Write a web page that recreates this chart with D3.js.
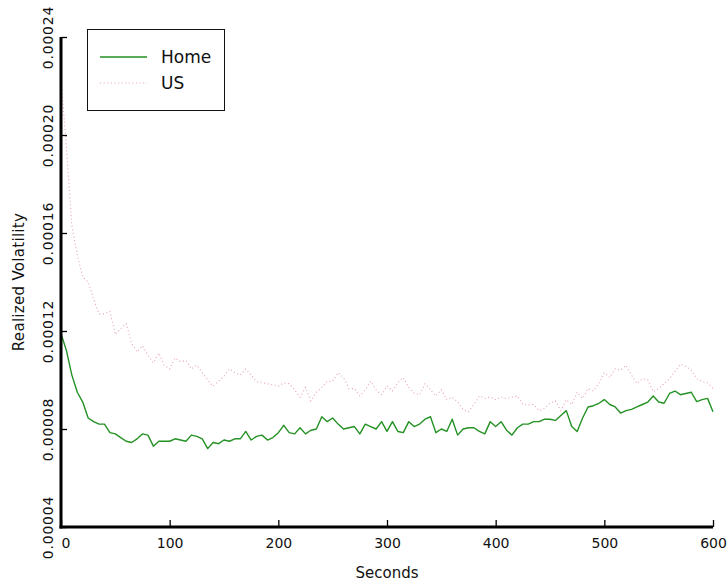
<!DOCTYPE html>
<html>
<head>
<meta charset="utf-8">
<script src="https://cdn.jsdelivr.net/npm/d3@7"></script>
<style>
  html, body { margin: 0; padding: 0; background: #fff; }
  svg { display: block; font-family: "DejaVu Sans", sans-serif; }
</style>
</head>
<body>
<svg id="chart" width="728" height="584"></svg>
<script>
// ---- data ----
const seconds = d3.range(0, 601, 5);
const homeValues = [
  11.9, 11.2, 10.2, 9.5, 9.1, 8.45, 8.3, 8.2, 8.2, 7.85,
  7.8, 7.65, 7.5, 7.45, 7.6, 7.8, 7.75, 7.3, 7.5, 7.5,
  7.5, 7.6, 7.55, 7.5, 7.75, 7.7, 7.6, 7.2, 7.45, 7.4,
  7.55, 7.5, 7.6, 7.6, 7.9, 7.55, 7.7, 7.75, 7.55, 7.65,
  7.85, 8.15, 7.85, 7.8, 8.05, 7.8, 7.95, 8.0, 8.5, 8.3,
  8.45, 8.2, 8.0, 8.05, 8.1, 7.8, 8.2, 8.1, 8.0, 8.3,
  7.9, 8.3, 7.9, 7.85, 8.3, 8.1, 8.2, 8.4, 8.5, 7.85,
  8.0, 7.9, 8.4, 7.75, 8.0, 8.05, 8.05, 7.9, 7.8, 8.3,
  8.1, 8.3, 7.95, 7.75, 8.05, 8.2, 8.2, 8.3, 8.3, 8.4,
  8.4, 8.35, 8.55, 8.75, 8.1, 7.9, 8.45, 8.9, 8.95, 9.05,
  9.2, 9.0, 8.9, 8.65, 8.75, 8.8, 8.9, 9.0, 9.1, 9.35,
  9.1, 9.05, 9.45, 9.55, 9.4, 9.45, 9.5, 9.12, 9.2, 9.25,
  8.7
].map(v => v * 1e-5);
const usValues = [
  22.3, 19.5, 16.3, 15.1, 14.2, 14.0, 13.3, 12.7, 12.7, 12.8,
  11.85, 12.1, 12.3, 11.5, 11.15, 11.4, 11.0, 10.7, 11.1, 10.6,
  10.45, 10.9, 10.75, 10.8, 10.45, 10.6, 10.3, 10.0, 9.75, 9.95,
  10.15, 10.45, 10.3, 10.2, 10.45, 10.2, 9.93, 9.9, 9.85, 9.8,
  9.75, 9.88, 9.85, 9.6, 9.3, 9.7, 9.15, 9.5, 9.7, 9.95,
  9.95, 10.3, 10.1, 9.65, 9.65, 9.35, 9.6, 9.95, 9.6, 9.4,
  9.75, 9.55, 9.9, 10.1, 9.7, 9.45, 9.4, 9.85, 9.6, 9.35,
  9.6, 9.2, 9.3, 9.1, 8.8, 8.7, 9.0, 9.35, 9.25, 9.3,
  9.2, 9.3, 9.25, 9.3, 9.35, 9.0, 8.98, 9.0, 8.75, 8.85,
  9.05, 9.15, 8.75, 9.2, 9.0, 9.5, 9.25, 9.65, 9.55, 9.85,
  10.3, 10.1, 10.45, 10.4, 10.6, 10.2, 9.86, 10.05, 10.0, 9.52,
  9.65, 9.85, 10.05, 10.35, 10.65, 10.55, 10.4, 10.05, 9.93, 9.88,
  9.66
].map(v => v * 1e-5);
const seriesNames = ["Home", "US"];
const xTickValues = [0, 100, 200, 300, 400, 500, 600];
const xMinorTicks = [50, 150, 250, 350, 450, 550];
const yTickValues = [0.00004, 0.00008, 0.00012, 0.00016, 0.00020, 0.00024];
const yMinorTicks = [0.00006, 0.00010, 0.00014, 0.00018, 0.00022];
const xTitle = "Seconds";
const yTitle = "Realized Volatility";

// ---- chart ----
const svg = d3.select("#chart");
const x = d3.scaleLinear().domain([0, 600]).range([61, 713]);
const y = d3.scaleLinear().domain([0.00004, 0.00024]).range([527, 37]);

const homeColor = "#239123";
const usColor = "#e8a9b3";

// lines
const line = d3.line().x((d, i) => x(seconds[i])).y(d => y(d));
svg.append("path").datum(usValues)
  .attr("d", line).attr("fill", "none")
  .attr("stroke", usColor).attr("stroke-width", 1.1)
  .attr("stroke-dasharray", "1.1,2.5");
svg.append("path").datum(homeValues)
  .attr("d", line).attr("fill", "none")
  .attr("stroke", homeColor).attr("stroke-width", 1.4)
  .attr("stroke-linejoin", "round");

// x axis
const xAxisG = svg.append("g").attr("transform", `translate(0,${y.range()[0]})`);
xAxisG.call(d3.axisBottom(x).tickValues(xMinorTicks).tickSize(-4.5).tickFormat(""));
xAxisG.call(d3.axisBottom(x).tickValues(xTickValues).tickSize(-7).tickSizeOuter(0)
  .tickFormat(d3.format("d")));
xAxisG.selectAll("path.domain").remove();
xAxisG.selectAll("line").attr("stroke", "#000").attr("stroke-width", 1.3);
xAxisG.selectAll("text")
  .attr("y", 16).attr("dy", "0.36em")
  .attr("font-size", 14).attr("fill", "#111")
  .attr("font-family", "DejaVu Sans, sans-serif");
xAxisG.selectAll("text").filter(d => d === 0).attr("text-anchor", "start").attr("x", 0);

// y axis
const yAxisG = svg.append("g").attr("transform", `translate(${x.range()[0]},0)`);
yAxisG.call(d3.axisLeft(y).tickValues(yMinorTicks).tickSize(-4.5).tickFormat(""));
yAxisG.call(d3.axisLeft(y).tickValues(yTickValues).tickSize(-6).tickSizeOuter(0)
  .tickFormat(d3.format(".5f")));
yAxisG.selectAll("path.domain").remove();
yAxisG.selectAll("line").attr("stroke", "#000").attr("stroke-width", 1.3);
yAxisG.selectAll("text")
  .attr("x", null).attr("dy", null)
  .attr("transform", "translate(-13,0) rotate(-90)")
  .attr("text-anchor", "middle")
  .attr("dominant-baseline", "central")
  .attr("font-size", 14).attr("letter-spacing", 0.8).attr("fill", "#111")
  .attr("font-family", "DejaVu Sans, sans-serif");

// thick axis lines
svg.append("line")
  .attr("x1", x.range()[0]).attr("x2", x.range()[0])
  .attr("y1", y.range()[0] + 1.5).attr("y2", y.range()[1])
  .attr("stroke", "#000").attr("stroke-width", 3);
svg.append("line")
  .attr("x1", x.range()[0] - 1.5).attr("x2", x.range()[1])
  .attr("y1", y.range()[0]).attr("y2", y.range()[0])
  .attr("stroke", "#000").attr("stroke-width", 3);

// axis titles
svg.append("text")
  .attr("x", (x.range()[0] + x.range()[1]) / 2).attr("y", 573)
  .attr("text-anchor", "middle").attr("dominant-baseline", "central")
  .attr("font-size", 15).attr("fill", "#111").text(xTitle);
svg.append("text")
  .attr("transform", `translate(19,${(y.range()[0] + y.range()[1]) / 2}) rotate(-90)`)
  .attr("text-anchor", "middle").attr("dominant-baseline", "central")
  .attr("font-size", 15).attr("letter-spacing", 0.3).attr("fill", "#111").text(yTitle);

// legend
const legend = svg.append("g");
legend.append("rect")
  .attr("x", 87.5).attr("y", 29.5).attr("width", 137).attr("height", 81)
  .attr("fill", "#fff").attr("stroke", "#111").attr("stroke-width", 1);
const legendItems = [
  { name: seriesNames[0], color: homeColor, dash: null, w: 1.5 },
  { name: seriesNames[1], color: usColor, dash: "1.1,2.5", w: 1.1 }
];
legendItems.forEach((it, i) => {
  const ly = 57 + i * 26;
  legend.append("line")
    .attr("x1", 100).attr("x2", 147).attr("y1", ly).attr("y2", ly)
    .attr("stroke", it.color).attr("stroke-width", it.w)
    .attr("stroke-dasharray", it.dash);
  legend.append("text")
    .attr("x", 161).attr("y", ly)
    .attr("dominant-baseline", "central")
    .attr("font-size", 17).attr("fill", "#111").text(it.name);
});
</script>
</body>
</html>
